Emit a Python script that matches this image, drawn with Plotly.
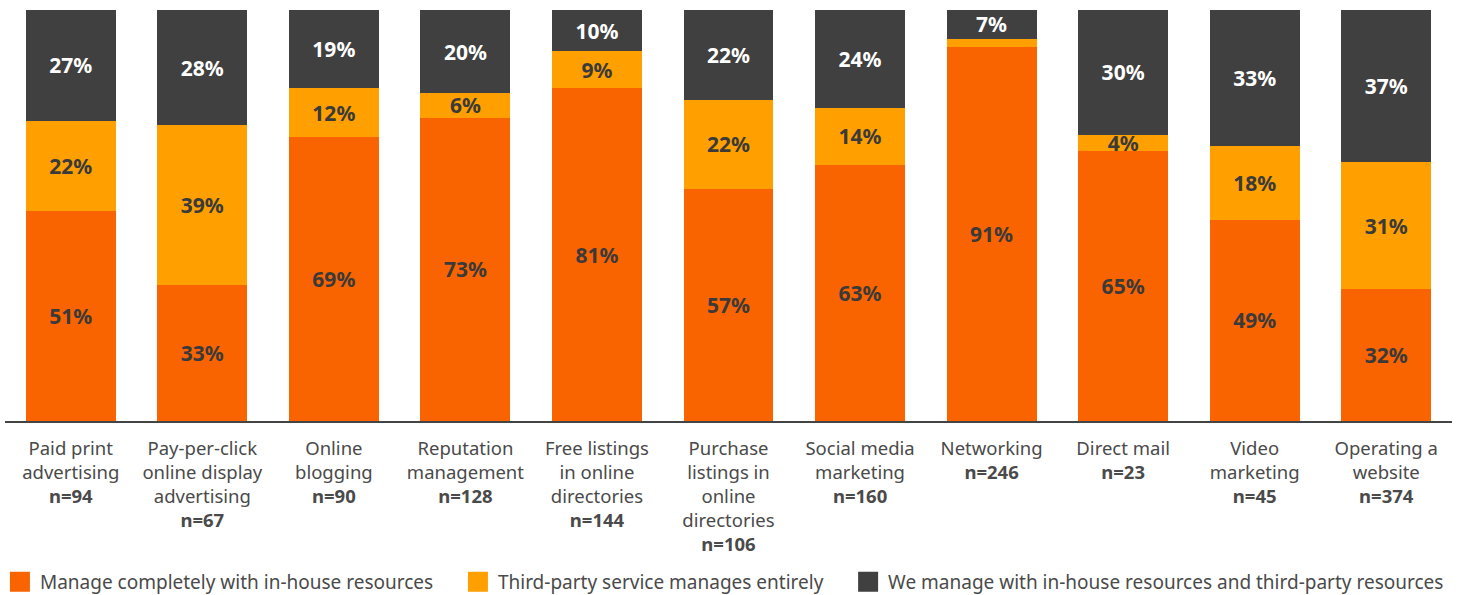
import plotly.graph_objects as go

categories = ["Paid print<br>advertising", "Pay-per-click<br>online display<br>advertising",
              "Online<br>blogging", "Reputation<br>management", "Free listings<br>in online<br>directories",
              "Purchase<br>listings in<br>online<br>directories", "Social media<br>marketing",
              "Networking", "Direct mail", "Video<br>marketing", "Operating a<br>website"]
n_values = [94, 67, 90, 128, 144, 106, 160, 246, 23, 45, 374]

in_house = [51, 33, 69, 73, 81, 57, 63, 91, 65, 49, 32]
third_party = [22, 39, 12, 6, 9, 22, 14, 2, 4, 18, 31]
both = [27, 28, 19, 20, 10, 22, 24, 7, 30, 33, 37]

series_names = ["Manage completely with in-house resources",
                "Third-party service manages entirely",
                "We manage with in-house resources and third-party resources"]
colors = ["#FA6400", "#FFA000", "#404040"]
text_colors = ["#3a3a3a", "#3a3a3a", "#ffffff"]
legend_pads = [4, 4, 0]

labels = [f"{c}<br><b>n={n}</b>" for c, n in zip(categories, n_values)]

fig = go.Figure()
for vals, name, col, tcol, pad in zip([in_house, third_party, both], series_names, colors, text_colors, legend_pads):
    txt = [f"<b>{v}%</b>" if v >= 4 else "" for v in vals]
    fig.add_trace(go.Bar(
        x=labels, y=vals, name=name, marker=dict(color=col, line=dict(width=0)),
        text=txt, texttemplate="%{text}", textposition="inside", insidetextanchor="middle",
        textangle=0, textfont=dict(color=tcol, size=21, family="Noto Sans"),
        showlegend=False, hoverinfo="skip"))
    fig.add_trace(go.Scatter(
        x=[None], y=[None], mode="markers", name=name + "\u00a0" * pad,
        marker=dict(symbol="square", size=16, color=col, line=dict(color=col, width=4)),
        showlegend=True))

fig.update_layout(
    width=1460, height=595,
    margin=dict(l=5, r=8, t=10, b=174, autoexpand=False),
    barmode="stack", barnorm="percent", bargap=0.316,
    plot_bgcolor="white", paper_bgcolor="white",
    font=dict(family="Noto Sans", color="#4a4a4a", size=18.5),
    uniformtext=dict(minsize=21, mode="show"),
    xaxis=dict(showline=True, linecolor="#444444", linewidth=2, ticks="",
               tickfont=dict(size=18.5, color="#4a4a4a"), ticklabelstandoff=10,
               showgrid=False, automargin=False),
    yaxis=dict(range=[0, 100], visible=False, showgrid=False),
    legend=dict(orientation="h", x=-0.0035, xanchor="left", xref="paper",
                y=-0.3917, yanchor="middle", yref="paper",
                font=dict(size=19, color="#4a4a4a"),
                itemsizing="trace", traceorder="normal"),
)

fig.write_html("out.html", config={"displayModeBar": False},
               post_script="document.body.style.margin='0';")
